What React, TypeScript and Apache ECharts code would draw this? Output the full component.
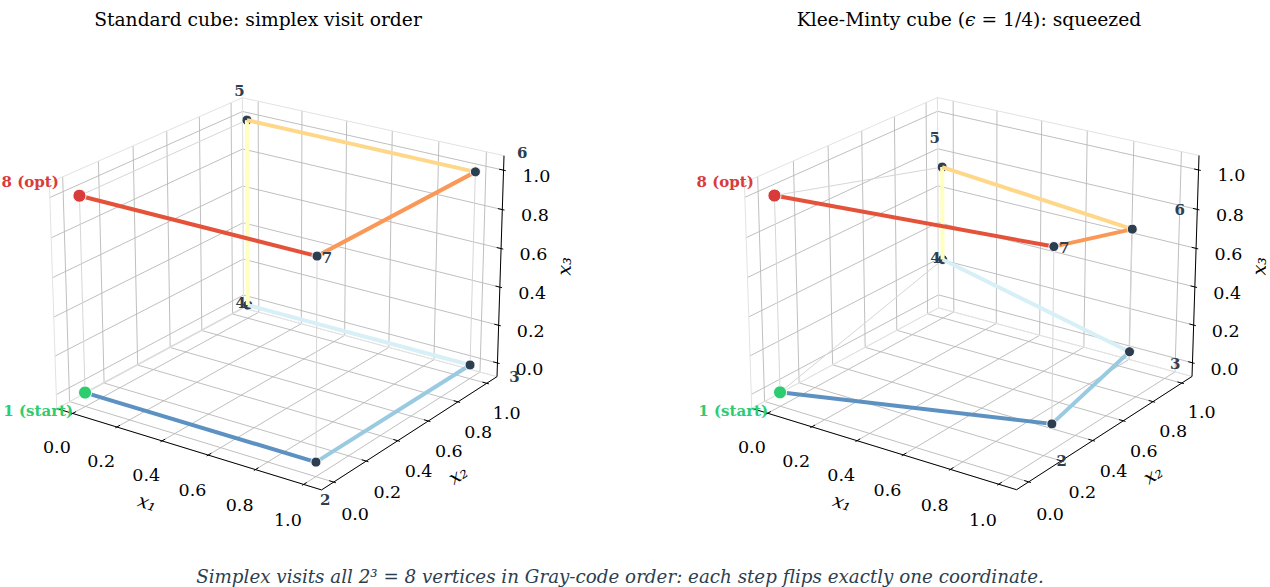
import React, { useEffect, useRef } from "react";
import * as echarts from "echarts";

// ---------------- data ----------------
const VERTEX_NAMES = ["1 (start)", "2", "3", "4", "5", "6", "7", "8 (opt)"];
// standard unit cube, simplex visit order (Gray code)
const STD_X1 = [0, 1, 1, 0, 0, 1, 1, 0];
const STD_X2 = [0, 0, 1, 1, 1, 1, 0, 0];
const STD_X3 = [0, 0, 0, 0, 1, 1, 1, 1];
// Klee-Minty cube with eps = 1/4, same visit order
const KM_X1 = [0, 1, 1, 0, 0, 1, 1, 0];
const KM_X2 = [0, 0.25, 0.75, 1, 1, 0.75, 0.25, 0];
const KM_X3 = [0, 0.0625, 0.1875, 0.25, 0.75, 0.8125, 0.9375, 1];
const AXIS_TICKS = [0, 0.2, 0.4, 0.6, 0.8, 1.0];
const TICK_LABELS = ["0.0", "0.2", "0.4", "0.6", "0.8", "1.0"];
const AXIS_NAMES = ["x₁", "x₂", "x₃"];
const TITLES = ["Standard cube: simplex visit order", "Klee-Minty cube"];
const CAPTION =
  "Simplex visits all 2³ = 8 vertices in Gray-code order: each step flips exactly one coordinate.";
const SEGMENT_COLORS = ["#5d91c2", "#99cae1", "#d7eff6", "#ffffbf", "#fed888", "#fa9857", "#e5523a"];

// ---------------- view (matplotlib-like 3D projection) ----------------
const ELEV = 22;
const AZIM = -55;
const DIST = 10;
const VIEW_LIM = [-0.05, 1.05];
const PAD = (VIEW_LIM[1] - VIEW_LIM[0]) / 48;
const LO = VIEW_LIM[0] - PAD;
const HI = VIEW_LIM[1] + PAD;
const DELTA = (VIEW_LIM[1] - VIEW_LIM[0]) / 12;
const BOX = [8 / 7, 8 / 7, 6 / 7];

const SERIF = '"DejaVu Serif", "Liberation Serif", serif';
const NAVY = "#2c3e50";
const GREEN = "#2ecc71";
const RED = "#d93b3b";

type V3 = [number, number, number];

function makeProjector(cx: number, cy: number, s: number) {
  const e = (ELEV * Math.PI) / 180;
  const a = (AZIM * Math.PI) / 180;
  const w = [Math.cos(e) * Math.cos(a), Math.cos(e) * Math.sin(a), Math.sin(e)];
  const u = [-Math.sin(a), Math.cos(a), 0];
  const v = [-Math.sin(e) * Math.cos(a), -Math.sin(e) * Math.sin(a), Math.cos(e)];
  return (p: V3): [number, number] => {
    const d = p.map((t, i) => ((t - LO) / (HI - LO)) * BOX[i] - BOX[i] / 2);
    const du = u[0] * d[0] + u[1] * d[1] + u[2] * d[2];
    const dv = v[0] * d[0] + v[1] * d[1] + v[2] * d[2];
    const dw = w[0] * d[0] + w[1] * d[1] + w[2] * d[2];
    const den = DIST - dw;
    return [cx + (s * du) / den, cy - (s * dv) / den];
  };
}

function lineSeries(data: any[], color: string, width: number, z: number) {
  return {
    type: "lines",
    coordinateSystem: "cartesian2d",
    polyline: true,
    silent: true,
    z,
    lineStyle: { color, width, opacity: 1 },
    data,
  };
}

function textSeries(items: { value: [number, number]; name: string }[], label: any, z: number) {
  return {
    type: "scatter",
    silent: true,
    z,
    symbolSize: 1,
    itemStyle: { color: "rgba(0,0,0,0)", opacity: 1 },
    label: { show: true, position: "inside", opacity: 1, formatter: (p: any) => p.name, ...label },
    data: items,
  };
}

function panelSeries(
  xs: number[],
  ys: number[],
  zs: number[],
  cx: number,
  cy: number,
  scale: number
) {
  const P = makeProjector(cx, cy, scale);
  const out: any[] = [];

  // panes
  const panes: V3[][] = [
    [[LO, LO, LO], [LO, HI, LO], [LO, HI, HI], [LO, LO, HI], [LO, LO, LO]],
    [[LO, HI, LO], [HI, HI, LO], [HI, HI, HI], [LO, HI, HI], [LO, HI, LO]],
    [[LO, LO, LO], [HI, LO, LO], [HI, HI, LO], [LO, HI, LO], [LO, LO, LO]],
  ];
  // gridlines
  const grid: V3[][] = [];
  AXIS_TICKS.forEach((t) => {
    grid.push([[t, LO, LO], [t, HI, LO], [t, HI, HI]]);
    grid.push([[HI, t, LO], [LO, t, LO], [LO, t, HI]]);
    grid.push([[LO, LO, t], [LO, HI, t], [HI, HI, t]]);
  });
  out.push(lineSeries(grid.map((c) => ({ coords: c.map(P) })), "#b8b8b8", 0.9, 1));
  out.push(lineSeries(panes.map((c) => ({ coords: c.map(P) })), "#e2e2e2", 1, 1));

  // axis lines + ticks
  const axes: V3[][] = [
    [[LO, LO, LO], [HI, LO, LO]],
    [[HI, LO, LO], [HI, HI, LO]],
    [[HI, HI, LO], [HI, HI, HI]],
  ];
  AXIS_TICKS.forEach((t) => {
    axes.push([[t, LO - 0.1 * DELTA, LO], [t, LO + 0.2 * DELTA, LO]]);
    axes.push([[HI + 0.1 * DELTA, t, LO], [HI - 0.2 * DELTA, t, LO]]);
    axes.push([[HI + 0.1 * DELTA, HI, t], [HI - 0.2 * DELTA, HI, t]]);
  });
  out.push(lineSeries(axes.map((c) => ({ coords: c.map(P) })), "#000000", 1, 2));

  // tick labels
  const tickFont = { color: "#000000", fontFamily: SERIF, fontSize: 17.5 };
  const tl: { value: [number, number]; name: string }[] = [];
  AXIS_TICKS.forEach((t, i) => {
    tl.push({ value: P([t, LO - 0.093, LO - 0.128]), name: TICK_LABELS[i] });
    tl.push({ value: P([HI + 0.088, t, LO - 0.126]), name: TICK_LABELS[i] });
    tl.push({ value: P([HI + 0.125, HI + 0.017, t]), name: TICK_LABELS[i] });
  });
  out.push(textSeries(tl, tickFont, 3));

  // axis names
  const nameFont = { color: "#000000", fontFamily: SERIF, fontSize: 19, fontStyle: "italic" };
  out.push(textSeries([{ value: P([0.5, LO - 0.218, LO - 0.16]), name: AXIS_NAMES[0] }], { ...nameFont, rotate: -17 }, 3));
  out.push(textSeries([{ value: P([HI + 0.187, 0.5, LO - 0.157]), name: AXIS_NAMES[1] }], { ...nameFont, rotate: 33 }, 3));
  out.push(textSeries([{ value: P([HI + 0.18, HI + 0.144, 0.5]), name: AXIS_NAMES[2] }], { ...nameFont, rotate: 88 }, 3));

  // polytope edges (pairs of vertices that differ in exactly one bit)
  const verts: V3[] = xs.map((x, i) => [x, ys[i], zs[i]] as V3);
  const edges: any[] = [];
  for (let i = 0; i < 8; i++)
    for (let j = i + 1; j < 8; j++) {
      const diff =
        (STD_X1[i] !== STD_X1[j] ? 1 : 0) + (STD_X2[i] !== STD_X2[j] ? 1 : 0) + (STD_X3[i] !== STD_X3[j] ? 1 : 0);
      if (diff === 1) edges.push({ coords: [P(verts[i]), P(verts[j])] });
    }
  out.push(lineSeries(edges, "#d6d6d6", 1, 4));

  const markerStyle = (i: number) => ({
    color: i === 0 ? GREEN : i === 7 ? RED : NAVY,
    borderColor: "#ffffff",
    borderWidth: 1,
    opacity: 1,
  });
  const marker = (i: number) => ({
    value: P(verts[i]),
    symbolSize: i === 0 || i === 7 ? 13 : 10,
    itemStyle: markerStyle(i),
  });
  // vertices at the back are drawn under the path
  out.push({ type: "scatter", silent: true, z: 5, itemStyle: { opacity: 1 }, data: [3, 4].map(marker) });

  // simplex path segments
  const segs = [];
  for (let i = 0; i < 7; i++)
    segs.push({ coords: [P(verts[i]), P(verts[i + 1])], lineStyle: { color: SEGMENT_COLORS[i] } });
  out.push({ ...lineSeries(segs, "#000", 4, 6), lineStyle: { width: 4, opacity: 1 } });

  out.push({ type: "scatter", silent: true, z: 7, itemStyle: { opacity: 1 }, data: [0, 1, 2, 5, 6, 7].map(marker) });

  // vertex labels
  const vl = verts.map((p, i) => ({
    value: P([
      p[0] + 0.12 * (STD_X1[i] * 2 - 1),
      p[1] + 0.12 * (STD_X2[i] * 2 - 1),
      p[2] + 0.08 * (STD_X3[i] * 2 - 1),
    ]),
    name: VERTEX_NAMES[i],
    label: { color: i === 0 ? GREEN : i === 7 ? RED : NAVY },
  }));
  out.push(textSeries(vl as any, { fontFamily: SERIF, fontSize: 15, fontWeight: "bold" }, 8));
  return out;
}

export default function App() {
  const ref = useRef<HTMLDivElement>(null);
  useEffect(() => {
    if (!ref.current) return;
    const chart = echarts.init(ref.current, undefined, { renderer: "svg" });
    const series = [
      ...panelSeries(STD_X1, STD_X2, STD_X3, 279.7, 282.5, 2810),
      ...panelSeries(KM_X1, KM_X2, KM_X3, 974.7, 282.3, 2810),
    ];
    chart.setOption({
      animation: false,
      backgroundColor: "#ffffff",
      grid: { left: 0, right: 0, top: 0, bottom: 0 },
      xAxis: { type: "value", min: 0, max: 1270, show: false },
      yAxis: { type: "value", min: 0, max: 587, inverse: true, show: false },
      graphic: [
        {
          type: "text",
          x: 258,
          y: 19,
          style: {
            text: TITLES[0],
            fill: "#000",
            fontFamily: SERIF,
            fontSize: 18.7,
            align: "center",
            verticalAlign: "middle",
          },
        },
        {
          type: "text",
          x: 969,
          y: 19,
          style: {
            text: "{a|" + TITLES[1] + " (}{e|ϵ}{a| = 1/4): squeezed}",
            rich: {
              a: { fontFamily: SERIF, fontSize: 18.7, fill: "#000" },
              e: { fontFamily: SERIF, fontSize: 18.7, fontStyle: "italic", fill: "#000" },
            },
            align: "center",
            verticalAlign: "middle",
          },
        },
        {
          type: "text",
          x: 620,
          y: 576,
          style: {
            text: CAPTION,
            fill: NAVY,
            fontFamily: SERIF,
            fontSize: 18.3,
            fontStyle: "italic",
            align: "center",
            verticalAlign: "middle",
          },
        },
      ],
      series,
    });
    return () => chart.dispose();
  }, []);
  return (
    <div
      ref={ref}
      style={{ position: "fixed", left: 0, top: 0, width: 1270, height: 587, background: "#fff" }}
    />
  );
}
